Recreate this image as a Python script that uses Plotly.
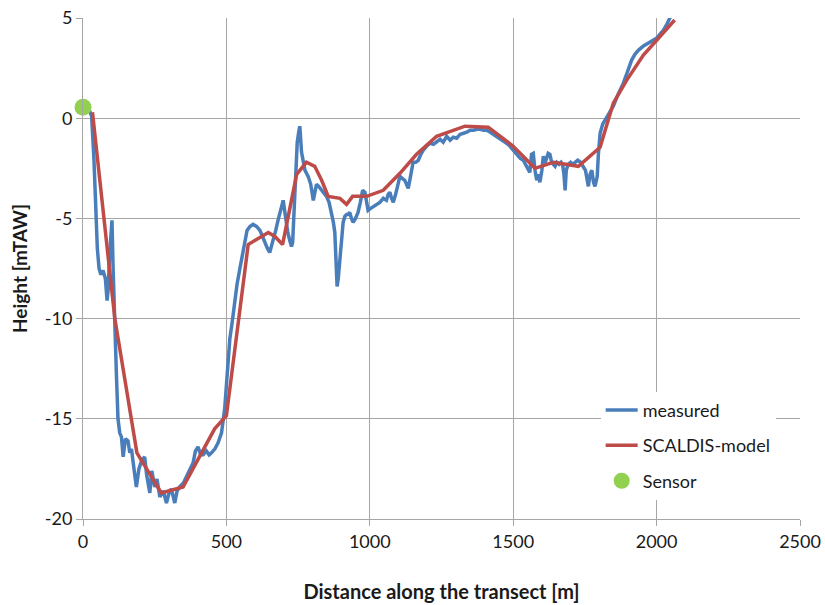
import plotly.graph_objects as go

measured_x = [22, 30, 38, 45, 50, 56, 62, 70, 78, 84, 88, 92, 97, 101, 105, 110, 117, 122, 128, 134,
              140, 148, 157, 163, 169, 176, 186, 195, 204, 215, 222, 233, 240, 250, 258, 268, 280, 291,
              300, 308, 314, 320, 328, 337, 350, 361, 372, 384, 392, 401, 410, 419, 430, 440, 448, 460,
              471, 483, 494, 503, 512, 520, 529, 537, 547, 556, 564, 572, 582, 593, 605, 617, 626, 634,
              643, 651, 657, 663, 672, 680, 690, 698, 703, 707, 714, 721, 727, 731, 735, 739, 743, 747,
              752, 756, 762, 768, 774, 785, 794, 803, 808, 814, 822, 832, 840, 849, 858, 867, 873, 878,
              882, 886, 890, 896, 901, 907, 913, 919, 925, 930, 936, 942, 950, 959, 967, 975, 983, 989,
              994, 1003, 1012, 1023, 1035, 1047, 1058, 1064, 1070, 1076, 1082, 1090, 1097, 1105, 1113,
              1122, 1128, 1134, 1142, 1151, 1160, 1169, 1178, 1186, 1198, 1210, 1222, 1233, 1245, 1256,
              1268, 1280, 1291, 1303, 1315, 1327, 1338, 1350, 1362, 1373, 1385, 1397, 1408, 1420, 1431,
              1442, 1454, 1466, 1477, 1489, 1500, 1512, 1524, 1535, 1547, 1558, 1564, 1570, 1576, 1582,
              1588, 1593, 1600, 1605, 1611, 1617, 1622, 1628, 1634, 1640, 1646, 1652, 1660, 1667, 1672,
              1677, 1681, 1685, 1692, 1700, 1708, 1716, 1725, 1735, 1745, 1752, 1757, 1762, 1768, 1774,
              1780, 1785, 1790, 1793, 1797, 1803, 1812, 1820, 1835, 1849, 1866, 1884, 1898, 1913, 1925,
              1937, 1954, 1971, 1986, 2001, 2012, 2024, 2036, 2047, 2060]
measured_y = [0.4, 0.1, -2.0, -4.6, -6.5, -7.5, -7.8, -7.6, -8.0, -9.1, -8.5, -7.0, -5.5, -5.1, -7.5, -10.5,
              -13.0, -15.0, -15.7, -15.9, -16.9, -16.0, -16.1, -16.7, -16.5, -17.3, -18.4, -17.5, -17.1,
              -16.9, -17.8, -18.7, -17.6, -18.4, -18.0, -18.9, -18.6, -19.2, -18.7, -18.5, -18.9, -19.2,
              -18.6, -18.4, -18.2, -17.9, -17.6, -17.2, -16.6, -16.4, -16.8, -16.8, -16.6, -16.8, -16.7,
              -16.5, -16.2, -15.7, -14.5, -12.9, -11.0, -10.2, -9.0, -8.3, -7.5, -6.8, -6.0, -5.6, -5.4,
              -5.3, -5.4, -5.6, -5.9, -6.2, -6.5, -6.7, -6.4, -6.2, -5.6, -5.1, -4.5, -4.1, -4.6, -5.1,
              -5.7, -6.1, -6.4, -6.2, -5.0, -4.1, -2.5, -1.2, -0.7, -0.4, -1.7, -2.3, -2.6, -2.9, -3.3,
              -4.1, -3.8, -3.3, -3.4, -3.6, -3.7, -3.9, -4.2, -4.7, -5.2, -5.7, -7.0, -8.4, -8.0, -6.9,
              -5.9, -5.2, -4.9, -4.8, -4.8, -4.7, -5.0, -5.2, -5.0, -4.7, -4.2, -3.6, -3.7, -4.2, -4.6,
              -4.5, -4.4, -4.3, -4.2, -4.0, -4.1, -3.8, -3.7, -4.0, -4.2, -3.8, -3.3, -2.9, -3.0, -3.1,
              -3.3, -3.5, -2.9, -2.2, -2.2, -2.1, -1.8, -1.6, -1.4, -1.25, -1.3, -1.2, -1.05, -1.2, -0.9,
              -1.1, -0.95, -1.0, -0.8, -0.75, -0.7, -0.6, -0.6, -0.55, -0.55, -0.6, -0.6, -0.7, -0.8,
              -0.9, -1.0, -1.1, -1.25, -1.4, -1.6, -1.8, -2.0, -2.1, -2.4, -2.7, -1.8, -1.75, -2.6, -3.1,
              -2.8, -3.2, -2.6, -1.9, -2.25, -1.9, -1.75, -1.8, -2.2, -2.3, -2.4, -2.2, -2.3, -2.2, -2.3,
              -2.8, -3.6, -2.6, -2.3, -2.2, -2.3, -2.2, -2.1, -2.2, -2.4, -2.6, -3.0, -3.4, -2.8, -2.6,
              -3.2, -3.4, -3.1, -2.9, -1.8, -0.75, -0.3, -0.1, 0.2, 0.6, 1.2, 1.75, 2.3, 2.9, 3.2,
              3.4, 3.6, 3.75, 3.85, 4.0, 4.2, 4.4, 4.7, 5.0, 5.4]

model_x = [33, 111, 188, 273, 349, 407, 459, 500, 576, 646, 669, 696, 721, 745, 779, 808, 832, 855, 896,
           919, 940, 989, 1047, 1105, 1163, 1233, 1332, 1413, 1500, 1576, 1640, 1727, 1803, 1849, 1896,
           1954, 2001, 2063]
model_y = [0.3, -10.0, -16.7, -18.7, -18.4, -16.9, -15.5, -14.85, -6.3, -5.7, -5.9, -6.3, -4.6, -2.8,
           -2.2, -2.4, -3.1, -3.9, -4.0, -4.3, -3.9, -3.9, -3.6, -2.75, -1.8, -0.9, -0.4, -0.45, -1.4,
           -2.5, -2.2, -2.4, -1.45, 0.75, 1.9, 3.15, 3.9, 4.9]

sensor_x = [0]
sensor_y = [0.55]

x_ticks = [0, 500, 1000, 1500, 2000, 2500]
x_labels = ["0", "500", "1000", "1500", "2000", "2500"]
y_ticks = [5, 0, -5, -10, -15, -20]
y_labels = ["5", "0", "-5", "-10", "-15", "-20"]

FONT = "Lato"
GRID = "#A6A6A6"
TXT = "#1A1A1A"

fig = go.Figure()
fig.add_trace(go.Scatter(x=measured_x, y=measured_y, mode="lines", name="measured",
                         line=dict(color="#4A7EBB", width=3.5), legendgroup="a"))
fig.add_trace(go.Scatter(x=model_x, y=model_y, mode="lines", name="SCALDIS-model",
                         line=dict(color="#BE4B48", width=3.5), legendgroup="b"))
fig.add_trace(go.Scatter(x=sensor_x, y=sensor_y, mode="markers", name="Sensor",
                         marker=dict(color="#92D050", size=17), cliponaxis=False, legendgroup="c"))

fig.update_layout(
    width=825, height=605,
    margin=dict(l=83, r=25, t=18, b=86, autoexpand=False),
    paper_bgcolor="white", plot_bgcolor="white",
    font=dict(family=FONT, size=18, color=TXT),
    showlegend=True,
    legend=dict(x=0.722, y=0.254, xanchor="left", yanchor="top",
                bgcolor="white", font=dict(family=FONT, size=18, color=TXT),
                tracegroupgap=9, itemwidth=32),
    xaxis=dict(range=[0, 2500], tickvals=x_ticks, ticktext=x_labels, automargin=False,
               showgrid=True, gridcolor=GRID, gridwidth=1,
               zeroline=False, showline=True, linecolor=GRID, linewidth=1,
               ticks="outside", ticklen=6, tickcolor=GRID,
               tickfont=dict(family=FONT, size=18, color=TXT),
               title=dict(text="<b>Distance along the transect [m]</b>", standoff=34,
                          font=dict(family=FONT, size=20, color=TXT))),
    yaxis=dict(range=[-20, 5], tickvals=y_ticks, ticktext=y_labels, automargin=False,
               showgrid=True, gridcolor=GRID, gridwidth=1,
               zeroline=False, showline=True, linecolor=GRID, linewidth=1,
               ticks="outside", ticklen=6, tickcolor=GRID,
               tickfont=dict(family=FONT, size=18, color=TXT),
               title=dict(text="<b>Height [mTAW]</b>", standoff=12,
                          font=dict(family=FONT, size=19, color=TXT))),
)

fig.write_html("out.html")
